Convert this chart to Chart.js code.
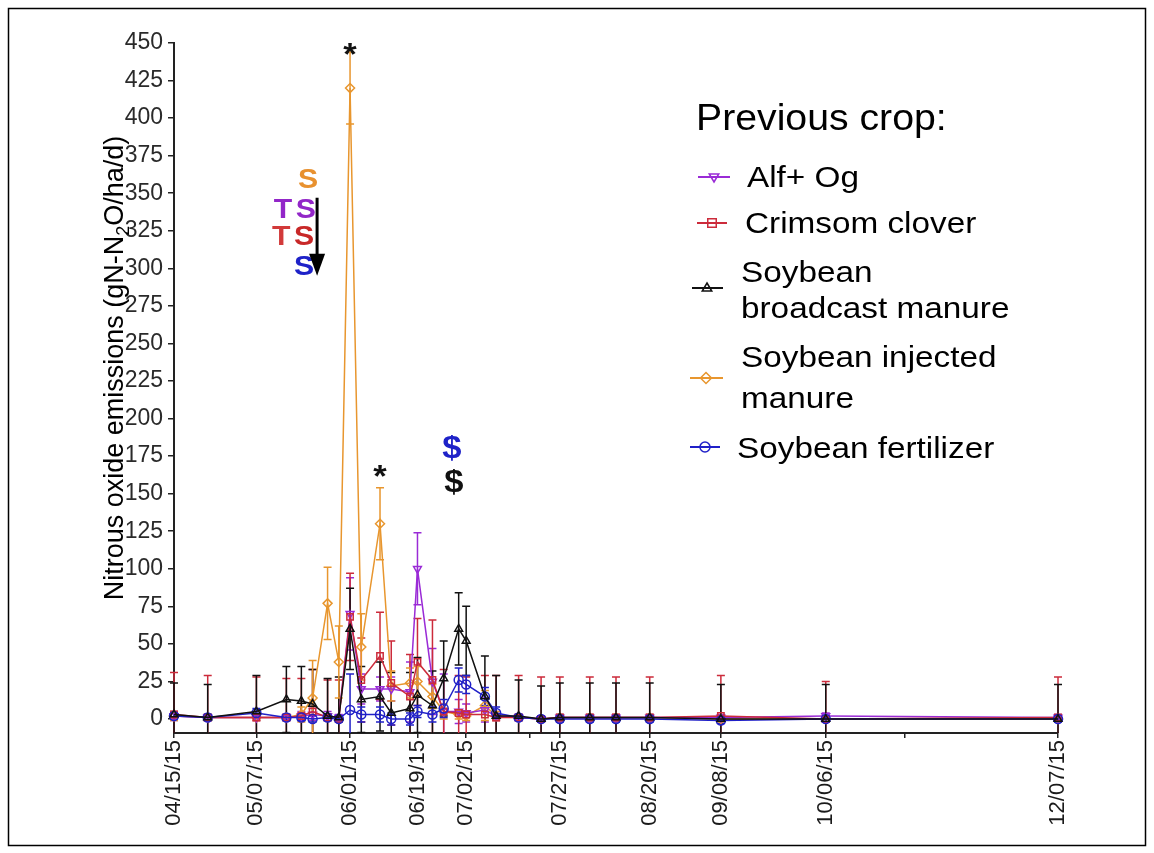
<!DOCTYPE html>
<html><head><meta charset="utf-8">
<script src="https://cdn.jsdelivr.net/npm/chart.js@4.4.1/dist/chart.umd.min.js"></script>
<style>html,body{margin:0;padding:0;background:#fff;}canvas{display:block;}</style>
</head><body>
<canvas id="c" width="1154" height="853"></canvas>
<script>
// ---------------- DATA ----------------
const sampleDates = ["04/15/15","04/24/15","05/07/15","05/15/15","05/19/15","05/22/15","05/26/15","05/29/15",
  "06/01/15","06/04/15","06/09/15","06/12/15","06/17/15","06/19/15","06/23/15","06/26/15","06/30/15","07/02/15",
  "07/07/15","07/10/15","07/16/15","07/22/15","07/27/15","08/04/15","08/11/15","08/20/15","09/08/15","10/06/15","12/07/15"];
const tickLabels = ["04/15/15","05/07/15","06/01/15","06/19/15","07/02/15","07/27/15","08/20/15","09/08/15","10/06/15","12/07/15"];
const extraTickDays = [200, 300];
const yTicks = [0,25,50,75,100,125,150,175,200,225,250,275,300,325,350,375,400,425,450];

const alfOg     = [2,1,1,1,2,3,2,1,70,20,20,20,18,100,25,5,5,4,6,2,1,0,1,1,1,1,1,2,1];
const alfOgSE   = [3,2,2,2,3,4,3,2,24,10,8,8,20,24,22,25,8,6,8,3,2,2,2,2,2,2,2,2,2];
const crimson   = [3,1,1,1,2,5,1,0,68,26,42,24,15,38,26,5,4,3,3,1,1,0,1,1,1,1,2,0,1];
const crimsonSE = [28,28,27,26,25,28,25,26,29,28,29,28,28,29,40,28,25,25,26,28,28,28,27,27,27,27,27,25,27];
const broadcast   = [3,1,5,13,12,10,2,1,60,13,15,4,7,16,9,27,60,52,15,2,2,0,1,1,1,1,0,0,0];
const broadcastSE = [21,22,24,22,23,23,25,27,27,22,23,27,24,25,23,25,24,23,27,27,24,22,23,23,23,23,23,23,23];
const injected   = [2,1,1,1,3,14,77,38,420,48,130,22,24,25,15,5,3,2,9,2,1,0,1,1,1,1,0,0,0];
const injectedSE = [3,2,2,2,5,25,24,24,24,22,24,10,10,10,8,5,3,3,10,3,2,2,2,2,2,2,2,2,2];
const fertilizer   = [2,1,4,1,1,0,1,0,6,3,3,0,0,5,3,7,26,23,15,4,1,0,0,0,0,0,-1,0,0];
const fertilizerSE = [2,2,3,2,2,2,2,2,24,5,5,4,4,4,5,6,8,6,6,4,2,2,2,2,2,2,2,2,2];

const annotations = [
  {text:"S", color:"#E8912F", date:140.8, value:360},
  {text:"T", color:"#9226C8", date:134.1, value:340},
  {text:"S", color:"#9226C8", date:140.2, value:340},
  {text:"T", color:"#D23A3A", date:133.6, value:322},
  {text:"S", color:"#C82828", date:139.7, value:322},
  {text:"S", color:"#1E22C8", date:139.7, value:302},
  {text:"*", color:"#111111", date:152.0, value:448},
  {text:"*", color:"#111111", date:160.0, value:167},
  {text:"$", color:"#1E22C8", date:179.2, value:181},
  {text:"$", color:"#111111", date:179.7, value:158}
];
const arrowDef = {date:143.2, from:347, to:295};

// ---------------- HELPERS ----------------
function dayOfYear(s){const p=s.split('/').map(Number);const y=2000+p[2];return (Date.UTC(y,p[0]-1,p[1])-Date.UTC(y,0,0))/86400000;}
const sampleDays = sampleDates.map(dayOfYear);
const tickDays = tickLabels.map(dayOfYear);
function xy(vals){return vals.map((v,i)=>({x:sampleDays[i], y:v}));}
const FONT = "'Liberation Sans', Arial, sans-serif";

const COLORS = {alf:'#9A2BD6', red:'#CC2B3B', blk:'#111111', org:'#E8962E', blu:'#2020C8'};

function mkDs(label, vals, se, color, style, rot, order){
  return {label, data:xy(vals), se, borderColor:color, backgroundColor:color, borderWidth:1.5,
    pointStyle:style, pointRotation:rot||0, pointRadius:4.5, pointHoverRadius:4.5, pointBorderWidth:1.5,
    pointBorderColor:color, pointBackgroundColor:'rgba(255,255,255,0)', tension:0, clip:false, order};
}
const datasets = [
  mkDs('Alf+ Og', alfOg, alfOgSE, COLORS.alf, 'triangle', 180, 3),
  mkDs('Crimsom clover', crimson, crimsonSE, COLORS.red, 'rect', 0, 2),
  mkDs('Soybean broadcast manure', broadcast, broadcastSE, COLORS.blk, 'triangle', 0, 0),
  mkDs('Soybean injected manure', injected, injectedSE, COLORS.org, 'rectRot', 0, 4),
  mkDs('Soybean fertilizer', fertilizer, fertilizerSE, COLORS.blu, 'circle', 0, 1)
];
const legendLines = [["Alf+ Og"],["Crimsom clover"],["Soybean","broadcast manure"],["Soybean injected","manure"],["Soybean fertilizer"]];

function drawMarker(ctx, style, rot, x, y, r, color){
  ctx.save(); ctx.strokeStyle=color; ctx.lineWidth=1.5; ctx.beginPath();
  if(style==='circle'){ctx.arc(x,y,r,0,Math.PI*2);}
  else if(style==='rect'){ctx.rect(x-r*0.85,y-r*0.85,r*1.7,r*1.7);}
  else if(style==='rectRot'){ctx.moveTo(x,y-r*1.1);ctx.lineTo(x+r*1.1,y);ctx.lineTo(x,y+r*1.1);ctx.lineTo(x-r*1.1,y);ctx.closePath();}
  else if(style==='triangle'){const s=rot?-1:1;ctx.moveTo(x,y-s*r);ctx.lineTo(x+r*0.95,y+s*r*0.6);ctx.lineTo(x-r*0.95,y+s*r*0.6);ctx.closePath();}
  ctx.stroke(); ctx.restore();
}

// ---------------- PLUGINS ----------------
const errorBars = {id:'errorBars', beforeDatasetsDraw(chart){
  const {ctx, chartArea:a, scales:{x, y}} = chart;
  ctx.save(); ctx.beginPath(); ctx.rect(a.left-6, a.top-20, a.right-a.left+12, a.bottom-a.top+20); ctx.clip();
  chart.data.datasets.forEach(ds=>{
    ctx.strokeStyle = ds.borderColor; ctx.lineWidth = 1.5;
    ds.data.forEach((p,i)=>{
      const px = x.getPixelForValue(p.x), t = y.getPixelForValue(p.y+ds.se[i]), b = y.getPixelForValue(p.y-ds.se[i]);
      ctx.beginPath(); ctx.moveTo(px,t); ctx.lineTo(px,b);
      ctx.moveTo(px-4,t); ctx.lineTo(px+4,t); ctx.moveTo(px-4,b); ctx.lineTo(px+4,b); ctx.stroke();
    });
  });
  ctx.restore();
}};

const overlay = {id:'overlay', afterDraw(chart){
  const {ctx, scales:{x, y}} = chart;
  ctx.save();
  // frame
  ctx.strokeStyle='#000'; ctx.lineWidth=1.5; ctx.strokeRect(8.5,8.5,1137,837);
  // annotations
  const off = {'S':0.358,'T':0.358,'$':0.33,'*':0.58};
  annotations.forEach(a=>{
    const size = (a.text==='S'||a.text==='T') ? 28 : 32;
    ctx.font = 'bold '+size+'px '+FONT; ctx.fillStyle=a.color; ctx.textAlign='center'; ctx.textBaseline='alphabetic';
    const px = x.getPixelForValue(a.date), py = y.getPixelForValue(a.value) + off[a.text]*size;
    ctx.save(); ctx.translate(px,py); ctx.scale(1.08,1); ctx.fillText(a.text,0,0); ctx.restore();
  });
  // arrow
  const ax = x.getPixelForValue(arrowDef.date), ay1 = y.getPixelForValue(arrowDef.from), ay2 = y.getPixelForValue(arrowDef.to);
  ctx.strokeStyle='#000'; ctx.fillStyle='#000'; ctx.lineWidth=3;
  ctx.beginPath(); ctx.moveTo(ax,ay1); ctx.lineTo(ax,ay2-18); ctx.stroke();
  ctx.beginPath(); ctx.moveTo(ax-8,ay2-22); ctx.lineTo(ax+8,ay2-22); ctx.lineTo(ax,ay2); ctx.closePath(); ctx.fill();
  // y-axis title
  ctx.save(); ctx.translate(123, 368); ctx.rotate(-Math.PI/2); ctx.fillStyle='#000'; ctx.textBaseline='alphabetic';
  const big = '27px '+FONT, small = '18px '+FONT;
  const p1 = 'Nitrous oxide emissions (gN-N', p2 = '2', p3 = 'O/ha/d)';
  ctx.font = big; const w1 = ctx.measureText(p1).width, w3 = ctx.measureText(p3).width;
  ctx.font = small; const w2 = ctx.measureText(p2).width;
  let sx = -(w1+w2+w3)/2; ctx.textAlign='left';
  ctx.font = big; ctx.fillText(p1, sx, 0); sx += w1;
  ctx.font = small; ctx.fillText(p2, sx, 6); sx += w2;
  ctx.font = big; ctx.fillText(p3, sx, 0);
  ctx.restore();
  // legend
  ctx.fillStyle='#000'; ctx.textAlign='left'; ctx.textBaseline='alphabetic';
  ctx.save(); ctx.translate(696,130); ctx.scale(1.06,1); ctx.font='37px '+FONT; ctx.fillText('Previous crop:',0,0); ctx.restore();
  const items = [
    {tx:747, base:[187], mx:714, my:177, l0:698, l1:730},
    {tx:745, base:[233], mx:712, my:223, l0:697, l1:727},
    {tx:741, base:[282,318], mx:707, my:288, l0:692, l1:723},
    {tx:741, base:[367,408], mx:706, my:378, l0:690, l1:723},
    {tx:737, base:[458], mx:705, my:447, l0:690, l1:720}
  ];
  items.forEach((it,i)=>{
    const ds = chart.data.datasets[i];
    ctx.strokeStyle=ds.borderColor; ctx.lineWidth=2;
    ctx.beginPath(); ctx.moveTo(it.l0,it.my); ctx.lineTo(it.l1,it.my); ctx.stroke();
    drawMarker(ctx, ds.pointStyle, ds.pointRotation, it.mx, it.my, 5, ds.borderColor);
    legendLines[i].forEach((t,k)=>{
      ctx.save(); ctx.translate(it.tx, it.base[k]); ctx.scale(1.11,1); ctx.font='30px '+FONT; ctx.fillStyle='#000'; ctx.fillText(t,0,0); ctx.restore();
    });
  });
  ctx.restore();
}};

// ---------------- CHART ----------------
new Chart(document.getElementById('c'), {
  type:'line',
  data:{datasets},
  options:{
    responsive:false, animation:false, events:[],
    layout:{padding:{left:0, top:43, right:96, bottom:0}},
    plugins:{legend:{display:false}, tooltip:{enabled:false}},
    scales:{
      x:{type:'linear', min:dayOfYear("04/15/15"), max:dayOfYear("12/07/15"),
        afterBuildTicks:s=>{s.ticks = tickDays.concat(extraTickDays).sort((a,b)=>a-b).map(v=>({value:v}));},
        afterFit:s=>{s.height=120;},
        ticks:{autoSkip:false, minRotation:90, maxRotation:90, padding:2, color:'#1a1a1a', font:{family:FONT, size:22},
          callback:(v)=>{const i=tickDays.indexOf(v); return i>=0?tickLabels[i]:'';}},
        grid:{display:true, drawOnChartArea:false, drawTicks:true, tickLength:5, color:'#222', lineWidth:1.5},
        border:{display:true, color:'#222', width:2}
      },
      y:{type:'linear', min:-9.3, max:450,
        afterBuildTicks:s=>{s.ticks = yTicks.map(v=>({value:v}));},
        afterFit:s=>{s.width=174;},
        ticks:{padding:5, color:'#2a2a2a', font:{family:FONT, size:23}},
        grid:{display:true, drawOnChartArea:false, drawTicks:true, tickLength:6, color:'#222', lineWidth:1.5},
        border:{display:true, color:'#222', width:2}
      }
    }
  },
  plugins:[errorBars, overlay]
});
</script>
</body></html>
